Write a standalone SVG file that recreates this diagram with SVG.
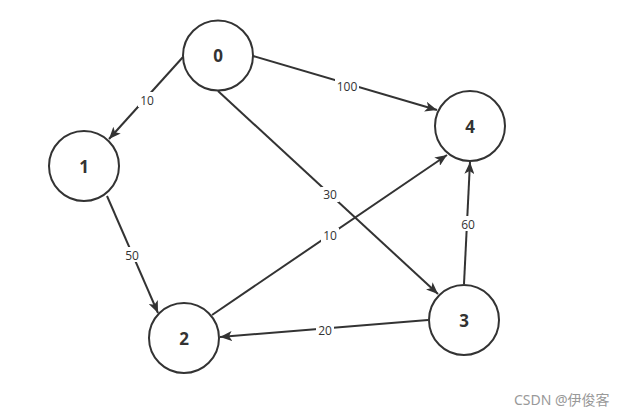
<svg xmlns="http://www.w3.org/2000/svg" width="628" height="416" viewBox="0 0 628 416">
<defs>
<marker id="arr" markerUnits="userSpaceOnUse" markerWidth="13" markerHeight="10" refX="12" refY="5" orient="auto">
<path d="M0,0 L12,5 L0,10 L3,5 z" fill="#333"/>
</marker>
<style>
.node circle{fill:#fff;stroke:#333;stroke-width:2}
.node text{font-family:"Noto Sans","Open Sans",sans-serif;font-weight:bold;font-size:17px;fill:#333;text-anchor:middle;dominant-baseline:central}
.edge path{fill:none;stroke:#333;stroke-width:2;marker-end:url(#arr)}
.lbl rect{fill:#fff}
.lbl text{font-family:"Open Sans","Noto Sans",sans-serif;font-size:12px;fill:#333;text-anchor:middle;dominant-baseline:central}
.wm{font-family:"Noto Sans","Noto Sans CJK SC",sans-serif;font-size:14px;fill:#999}
</style>
</defs>
<rect width="628" height="416" fill="#fff"/>
<g id="connectors">
<g class="edge"><path d="M183,57 L109,139"/></g>
<g class="edge"><path d="M253,56 L437,110"/></g>
<g class="edge"><path d="M218,91 L438,294"/></g>
<g class="edge"><path d="M107,196 L158,313"/></g>
<g class="edge"><path d="M212,315 L447,155"/></g>
<g class="edge"><path d="M464,284 L470,162"/></g>
<g class="edge"><path d="M428,320 L220,337"/></g>
<g class="lbl"><rect x="138" y="92" width="18" height="15"/><text x="147" y="100">10</text></g>
<g class="lbl"><rect x="335" y="78" width="24" height="15"/><text x="347" y="86">100</text></g>
<g class="lbl"><rect x="321" y="187" width="18" height="15"/><text x="330" y="194">30</text></g>
<g class="lbl"><rect x="123" y="247" width="18" height="15"/><text x="132" y="255">50</text></g>
<g class="lbl"><rect x="321" y="228" width="18" height="15"/><text x="330" y="235">10</text></g>
<g class="lbl"><rect x="459" y="216" width="18" height="15"/><text x="468" y="224">60</text></g>
<g class="lbl"><rect x="316" y="322" width="18" height="15"/><text x="325" y="330">20</text></g>
</g>
<g id="node0" class="node"><circle cx="218" cy="55.5" r="35"/><text x="218" y="55.5">0</text></g>
<g id="node1" class="node"><circle cx="84" cy="166" r="35"/><text x="84" y="166">1</text></g>
<g id="node2" class="node"><circle cx="184" cy="338" r="35"/><text x="184" y="338">2</text></g>
<g id="node3" class="node"><circle cx="464" cy="320" r="35"/><text x="464" y="320">3</text></g>
<g id="node4" class="node"><circle cx="470" cy="126" r="35"/><text x="470" y="126">4</text></g>
<text class="wm" x="514" y="405">CSDN @伊俊客</text>
</svg>
